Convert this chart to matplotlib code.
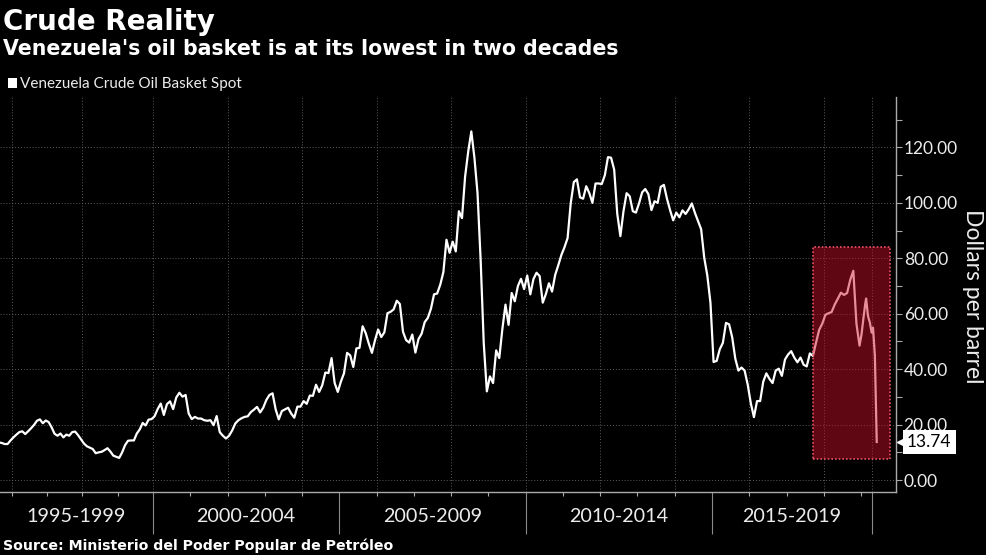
import numpy as np
import matplotlib
matplotlib.use("Agg")
import matplotlib.pyplot as plt
import matplotlib.transforms as mtransforms
from matplotlib.patches import Rectangle
from matplotlib.ticker import FixedLocator, NullFormatter, FuncFormatter

plt.rcParams["font.family"] = ["Lato", "DejaVu Sans"]

TITLE = "Crude Reality"
SUBTITLE = "Venezuela's oil basket is at its lowest in two decades"
SERIES_NAME = "Venezuela Crude Oil Basket Spot"
SOURCE = "Source: Ministerio del Poder Popular de Petróleo"
Y_LABEL = "Dollars per barrel"

# monthly spot price, USD/bbl; first value is Aug 1995
FIRST_MONTH = (1995, 8)
P_1995_1999 = [
    13.6, 13.4, 13.0, 13.0, 14.3,
    15.4, 16.4, 17.3, 17.6, 16.6, 17.6, 18.7, 19.9, 21.4, 21.9, 20.5, 21.5,
    20.9, 19.0, 16.7, 16.0, 16.8, 15.4, 16.4, 16.0, 17.3, 17.5, 16.2, 14.7,
    13.2, 12.2, 11.7, 11.2, 9.7, 10.0, 10.2, 10.8, 11.5, 10.3, 8.8, 8.4,
    8.0, 10.0, 12.6, 14.2, 14.3, 14.3, 16.8, 18.3, 20.6, 19.7, 21.8, 22.0,
]
P_2000_2004 = [
    23.0, 25.6, 27.6, 23.5, 27.4, 28.4, 25.6, 29.8, 31.5, 30.1, 30.7, 24.0,
    22.0, 22.8, 22.2, 22.2, 21.6, 21.4, 21.6, 19.8, 23.1, 17.3, 16.0, 15.0,
    16.0, 17.9, 20.4, 21.6, 22.3, 22.8, 23.0, 24.5, 25.4, 26.4, 24.4, 26.1,
    28.9, 30.7, 31.3, 25.5, 21.9, 24.9, 25.5, 26.1, 24.0, 22.5, 26.5, 26.5,
    28.5, 27.5, 30.5, 30.4, 34.4, 31.8, 34.2, 38.8, 38.6, 44.0, 35.0, 31.8,
]
P_2005_2009 = [
    35.5, 38.5, 45.9, 45.0, 40.8, 47.5, 47.7, 55.5, 53.0, 49.2, 45.9, 50.5,
    54.3, 51.6, 53.3, 60.2, 60.7, 61.6, 64.7, 63.5, 53.5, 50.5, 49.6, 52.5,
    46.0, 50.9, 52.8, 57.0, 58.5, 61.8, 67.0, 67.3, 70.5, 75.0, 86.7, 82.0,
    86.0, 82.5, 97.0, 94.5, 109.5, 118.5, 125.8, 116.3, 103.5, 79.5, 49.5, 32.0,
    37.4, 35.0, 46.8, 44.0, 54.5, 63.3, 56.0, 67.5, 64.5, 70.0, 72.6, 68.9,
]
P_2010_2014 = [
    73.8, 67.0, 72.5, 74.8, 73.6, 64.0, 67.1, 71.0, 68.0, 74.0, 77.5, 81.2,
    84.0, 87.3, 99.8, 107.5, 108.5, 102.0, 101.5, 106.0, 103.5, 100.0, 107.0, 107.0,
    106.8, 110.0, 116.5, 116.3, 112.0, 96.0, 88.0, 97.0, 103.5, 102.4, 97.0, 96.5,
    99.8, 103.8, 105.0, 103.2, 97.4, 100.6, 100.0, 105.8, 106.5, 101.5, 97.4, 93.7,
    96.5, 94.8, 97.3, 96.0, 97.7, 99.8, 96.4, 93.4, 90.5, 80.2, 73.7, 64.0,
]
P_2015_2020 = [
    42.6, 43.0, 47.2, 49.5, 56.7, 56.2, 51.5, 43.8, 39.5, 40.6, 39.5, 34.4,
    27.7, 22.7, 28.5, 28.5, 35.5, 38.5, 36.5, 35.0, 39.5, 40.2, 37.6, 43.5,
    45.3, 46.5, 44.2, 42.5, 44.2, 41.6, 41.0, 45.7, 44.8, 49.6, 54.2, 56.4,
    59.6, 60.2, 60.6, 63.3, 65.4, 67.6, 66.8, 67.5, 72.2, 75.5, 56.5, 48.5,
    52.6, 55.5, 58.2, 60.8, 63.5, 65.5, 62.3, 59.3, 58.0, 57.0, 55.0, 53.2,
    55.0, 45.0, 13.74,
]
PERIOD_LABELS = ["1995-1999", "2000-2004", "2005-2009", "2010-2014", "2015-2019"]
PERIOD_EDGES = [2000, 2005, 2010, 2015, 2020]
GRID_YEARS = list(range(1996, 2021, 2))
YEAR_TICKS = list(range(1996, 2020))
HIGHLIGHT = (2017.71, 2020.82, 7.5, 84.0)   # t0, t1, low, high
X_RANGE = (1995.66, 2021.07)
Y_RANGE = (-4.3, 138.2)

# the time axis is squeezed where observations are sparse (pre-2000, 2019 on)
DATE_KNOTS = [1990.0, 2000.0, 2019.0, 2020.0, 2025.0]
POS_KNOTS = [1990.542, 2000.0, 2019.0, 2019.295, 2022.295]


def fwd(t):
    return np.interp(t, DATE_KNOTS, POS_KNOTS)


def inv(p):
    return np.interp(p, POS_KNOTS, DATE_KNOTS)


prices = np.array(P_1995_1999 + P_2000_2004 + P_2005_2009 + P_2010_2014 + P_2015_2020)
dates = FIRST_MONTH[0] + (FIRST_MONTH[1] - 1 + np.arange(len(prices)) + 0.5) / 12.0
last_value = prices[-1]

W, H = 987, 555
fig = plt.figure(figsize=(W / 100, H / 100), dpi=100, facecolor="black")
ax = fig.add_axes([0.0, 1 - 492 / H, 896 / W, (492 - 97) / H])
ax.set_facecolor("black")
ax.set_xscale("function", functions=(fwd, inv))
ax.set_xlim(*X_RANGE)
ax.set_ylim(*Y_RANGE)

ax.plot(dates, prices, color="white", lw=1.6, zorder=3, solid_joinstyle="round")

t0, t1, lo, hi = HIGHLIGHT
ax.add_patch(Rectangle((t0, lo), t1 - t0, hi - lo, facecolor=(0.8, 0.06, 0.16, 0.47),
                       edgecolor=(0.92, 0.32, 0.40, 1.0), lw=1.2,
                       linestyle=(0, (1, 1.2)), zorder=4))

gridkw = dict(color="#5c5c5c", lw=0.7, ls=(0, (1, 2)), zorder=1)
for yr in GRID_YEARS:
    ax.axvline(yr, **gridkw)
for v in range(0, 121, 20):
    ax.axhline(v, **gridkw)

# y axis on the right
ax.yaxis.tick_right()
ax.yaxis.set_major_locator(FixedLocator(range(0, 121, 20)))
ax.yaxis.set_minor_locator(FixedLocator(range(10, 131, 20)))
ax.yaxis.set_major_formatter(FuncFormatter(lambda v, _: f"{v:.2f}"))
ax.tick_params(axis="y", which="both", direction="out", length=4, width=0.8,
               color="#aaaaaa", labelcolor="#ececec", labelsize=12.5, pad=1.5)

# x axis: long separators between periods, short ticks for years
ax.xaxis.set_major_locator(FixedLocator(PERIOD_EDGES))
ax.xaxis.set_minor_locator(FixedLocator(YEAR_TICKS))
ax.xaxis.set_major_formatter(NullFormatter())
ax.xaxis.set_minor_formatter(NullFormatter())
ax.tick_params(axis="x", which="major", direction="out", length=30, width=0.8, color="#8a8a8a")
ax.tick_params(axis="x", which="minor", direction="out", length=3, width=0.8, color="#aaaaaa")

for s in ("left", "top"):
    ax.spines[s].set_visible(False)
for s in ("bottom", "right"):
    ax.spines[s].set_color("#aaaaaa")
    ax.spines[s].set_linewidth(1.0)

trans = mtransforms.blended_transform_factory(ax.transData, ax.transAxes)
bounds = [X_RANGE[0]] + PERIOD_EDGES
for lbl, a, b in zip(PERIOD_LABELS, bounds[:-1], bounds[1:]):
    c = inv((fwd(a) + fwd(b)) / 2)
    ax.text(c, -0.063, lbl, transform=trans, ha="center", va="center",
            color="#ececec", fontsize=14.2)

# last value tag
tag_trans = mtransforms.blended_transform_factory(ax.transAxes, ax.transData)
ax.plot([1.0], [last_value], marker="<", ms=8, color="white", clip_on=False, zorder=6,
        transform=mtransforms.offset_copy(tag_trans, fig=fig, x=7, units="dots"))
ax.annotate(f"{last_value:.2f}", xy=(1.0, last_value), xycoords=tag_trans,
            xytext=(8, 0), textcoords="offset points", ha="left", va="center",
            fontsize=12.5, color="black", annotation_clip=False, zorder=7,
            bbox=dict(boxstyle="square,pad=0.25", fc="white", ec="none"))

# header, legend, source
fig.text(3 / W, 1 - 30 / H, TITLE, fontsize=20, fontweight="bold",
         family="DejaVu Sans", color="white", va="baseline")
fig.text(3 / W, 1 - 55 / H, SUBTITLE, fontsize=14.8, fontweight="bold",
         family="DejaVu Sans", color="white", va="baseline")
fig.add_artist(Rectangle((8 / W, 1 - 88 / H), 9 / W, 10 / H, transform=fig.transFigure,
                         facecolor="white", edgecolor="none"))
fig.text(20 / W, 1 - 88 / H, SERIES_NAME, fontsize=11, color="#ececec", va="baseline")
fig.text(3 / W, 1 - 550 / H, SOURCE, fontsize=10.2, fontweight="bold",
         family="DejaVu Sans", color="white", va="baseline")
fig.text(0.985, 1 - 296 / H, Y_LABEL, rotation=270, fontsize=16.5, color="#ececec",
         ha="center", va="center")

fig.savefig("out.png", dpi=100, facecolor="black")
